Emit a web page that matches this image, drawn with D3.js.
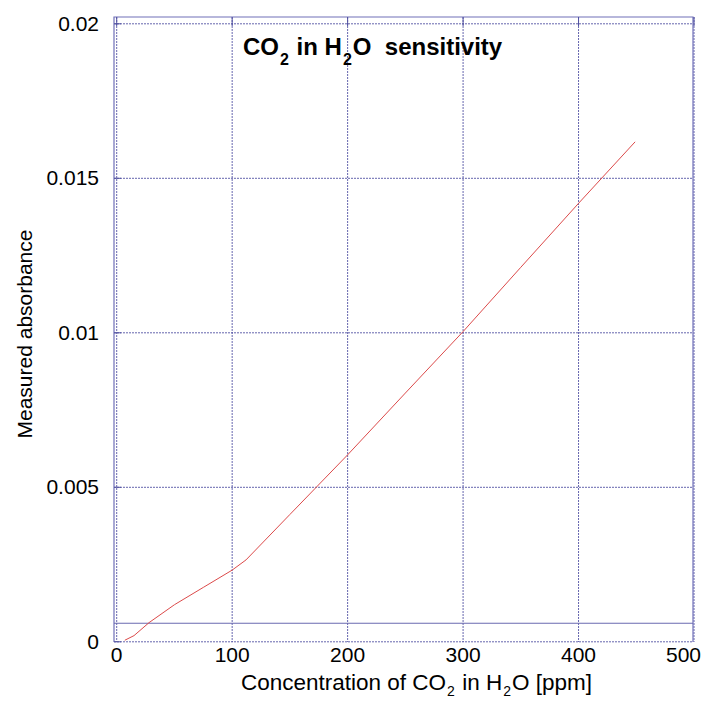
<!DOCTYPE html>
<html>
<head>
<meta charset="utf-8">
<script src="https://cdn.jsdelivr.net/npm/d3@7"></script>
<style>
  body { margin: 0; background: #fff; }
  text { font-family: "Liberation Sans", Arial, sans-serif; fill: #000; white-space: pre; }
</style>
</head>
<body>
<div class="wrapper"></div>
<script>
// values
var ppm        = [7, 15, 28, 50, 75, 100, 112, 150, 200, 250, 300, 350, 400, 449];
var absorbance = [0.00005, 0.0002, 0.00062, 0.0012, 0.00176, 0.00232, 0.00265, 0.00412,
                  0.00605, 0.00805, 0.01004, 0.01212, 0.01419, 0.01618];
var xTicks = [0, 100, 200, 300, 400, 500];
var yTicks = [0, 0.005, 0.01, 0.015, 0.02];
var yTickLabels = ["0", "0.005", "0.01", "0.015", "0.02"];
var baseline = 0.0006;   // the solid horizontal line near the bottom

var w = 708, h = 704;

var svg = d3.select(".wrapper").append("svg")
    .attr("width", w)
    .attr("height", h);

var x = d3.scaleLinear().domain([0, 500]).range([116.7, 694]);
var y = d3.scaleLinear().domain([0, 0.02]).range([641.8, 23.8]);

var frame = { left: 114, top: 17, right: 693, bottom: 642 };
var gridColor = "#40409a";

// dotted grid
svg.append("g").selectAll("line")
    .data(xTicks)
  .enter().append("line")
    .attr("x1", function(d) { return x(d); })
    .attr("x2", function(d) { return x(d); })
    .attr("y1", frame.top)
    .attr("y2", frame.bottom)
    .attr("stroke", gridColor)
    .attr("stroke-opacity", 0.8)
    .attr("stroke-dasharray", "2,1");

svg.append("g").selectAll("line")
    .data(yTicks)
  .enter().append("line")
    .attr("x1", frame.left)
    .attr("x2", frame.right)
    .attr("y1", function(d) { return y(d); })
    .attr("y2", function(d) { return y(d); })
    .attr("stroke", gridColor)
    .attr("stroke-opacity", 0.8)
    .attr("stroke-dasharray", "2,1");

// solid frame (left, top, right)
svg.append("path")
    .attr("d", "M" + frame.left + "," + frame.bottom + "V" + frame.top + "H" + frame.right + "V" + frame.bottom)
    .attr("fill", "none")
    .attr("stroke", "#7070b8")
    .attr("stroke-width", 1.2);

// baseline
svg.append("line")
    .attr("x1", frame.left)
    .attr("x2", frame.right)
    .attr("y1", y(baseline))
    .attr("y2", y(baseline))
    .attr("stroke", "#6a6ab0")
    .attr("stroke-width", 1.2);

// inner ticks
svg.append("g").selectAll("line")
    .data(yTicks)
  .enter().append("line")
    .attr("x1", frame.left).attr("x2", frame.left + 7)
    .attr("y1", function(d) { return y(d); })
    .attr("y2", function(d) { return y(d); })
    .attr("stroke", "#5050a0");

svg.append("g").selectAll("line")
    .data(xTicks)
  .enter().append("line")
    .attr("x1", function(d) { return x(d); })
    .attr("x2", function(d) { return x(d); })
    .attr("y1", frame.top).attr("y2", frame.top + 9)
    .attr("stroke", "#5050a0");

// tick labels
svg.append("g").selectAll("text")
    .data(yTicks)
  .enter().append("text")
    .attr("x", 99)
    .attr("y", function(d) { return y(d) + 7; })
    .attr("text-anchor", "end")
    .style("font-size", "21px")
    .text(function(d, i) { return yTickLabels[i]; });

// last x label is pulled in so it stays on the page, as in the picture
svg.append("g").selectAll("text")
    .data(xTicks)
  .enter().append("text")
    .attr("x", function(d, i) { return i === xTicks.length - 1 ? 701 : x(d); })
    .attr("y", 662)
    .attr("text-anchor", function(d, i) { return i === xTicks.length - 1 ? "end" : "middle"; })
    .style("font-size", "21px")
    .text(function(d) { return d; });

// data line
var line = d3.line()
    .x(function(d, i) { return x(ppm[i]); })
    .y(function(d) { return y(d); });

svg.append("path")
    .datum(absorbance)
    .attr("d", line)
    .attr("fill", "none")
    .attr("stroke", "#dc4a4a")
    .attr("stroke-width", 1);

// title with subscripts
var title = svg.append("text")
    .attr("x", 243)
    .attr("y", 55)
    .style("font-size", "24px")
    .style("font-weight", "bold");
title.append("tspan").text("CO");
title.append("tspan").attr("dx", 1).attr("dy", 10).style("font-size", "16px").text("2");
title.append("tspan").attr("dx", 1).attr("dy", -10).text(" in H");
title.append("tspan").attr("dx", 1).attr("dy", 10).style("font-size", "16px").text("2");
title.append("tspan").attr("dx", 1).attr("dy", -10).text("O  sensitivity");

// axis labels
var xl = svg.append("text")
    .attr("x", 241)
    .attr("y", 690)
    .style("font-size", "22.5px");
xl.append("tspan").text("Concentration of CO");
xl.append("tspan").attr("dx", 1).attr("dy", 6).style("font-size", "14px").text("2");
xl.append("tspan").attr("dx", 1).attr("dy", -6).text(" in H");
xl.append("tspan").attr("dx", 1).attr("dy", 6).style("font-size", "14px").text("2");
xl.append("tspan").attr("dx", 1).attr("dy", -6).text("O [ppm]");

svg.append("text")
    .attr("transform", "translate(32,334) rotate(-90)")
    .attr("text-anchor", "middle")
    .style("font-size", "21px")
    .text("Measured absorbance");
</script>
</body>
</html>
